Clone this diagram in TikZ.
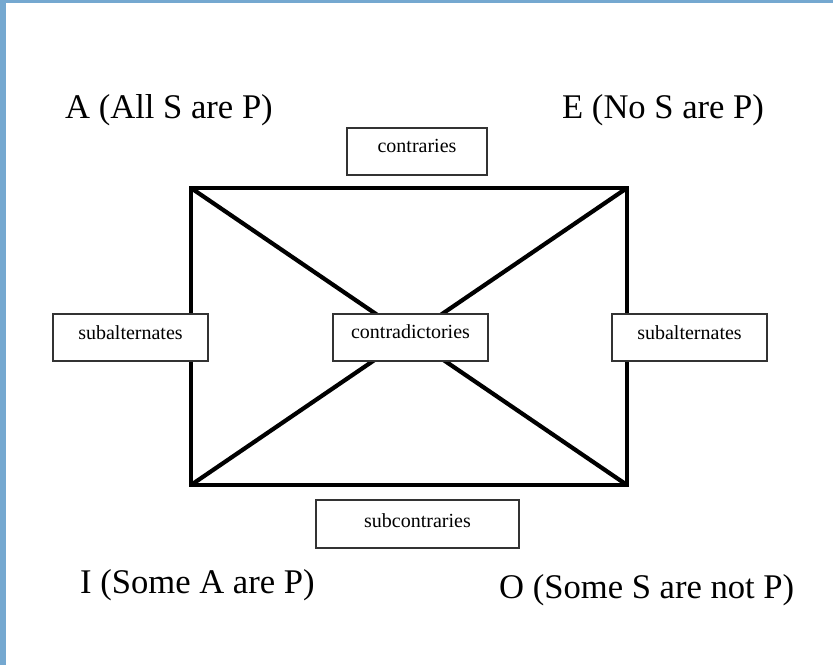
\documentclass[tikz,border=0pt]{standalone}
\usepackage{fontspec}
\setmainfont{Liberation Serif}
\definecolor{frameblue}{HTML}{75A8D0}
\definecolor{boxgray}{HTML}{333333}
\tikzset{
  big/.style={font=\fontsize{34.6}{40}\selectfont, inner sep=0pt, anchor=base west},
  small/.style={font=\fontsize{20}{24}\selectfont, inner sep=0pt, anchor=base},
  lbox/.style={draw=boxgray, line width=1.3pt, fill=white},
  square/.style={line width=4.2pt, line join=miter}
}
\begin{document}
\begin{tikzpicture}[x=1pt,y=-1pt]
\useasboundingbox (0,0) rectangle (833,665);
\fill[white] (0,0) rectangle (833,665);
\fill[frameblue] (0,0) rectangle (833,3);
\fill[frameblue] (0,0) rectangle (6,665);
% corners
\coordinate (tl) at (191,188);
\coordinate (tr) at (627,188);
\coordinate (br) at (627,485);
\coordinate (bl) at (191,485);
\draw[square] (tl) -- (tr) -- (br) -- (bl) -- cycle;
\draw[square] (tl) -- (br);
\draw[square] (tr) -- (bl);
% boxes
\draw[lbox] (347,128) rectangle (487,175);
\draw[lbox] (53,314) rectangle (208,361);
\draw[lbox] (333,314) rectangle (488,361);
\draw[lbox] (612,314) rectangle (767,361);
\draw[lbox] (316,500) rectangle (519,548);
% small labels
\node[small] (contr) at (417,152) {contraries};
\node[small] (subl) at (130.5,339) {subalternates};
\node[small] (contd) at (410.5,338) {contradictories};
\node[small] (subr) at (689.5,339) {subalternates};
\node[small] (subc) at (417.5,527) {subcontraries};
% corner labels
\node[big] (A) at (65,118) {A (All S are P)};
\node[big] (E) at (562,118) {E (No S are P)};
\node[big] (I) at (80,593) {I (Some A are P)};
\node[big] (O) at (499,598) {O (Some S are not P)};
\end{tikzpicture}
\end{document}
